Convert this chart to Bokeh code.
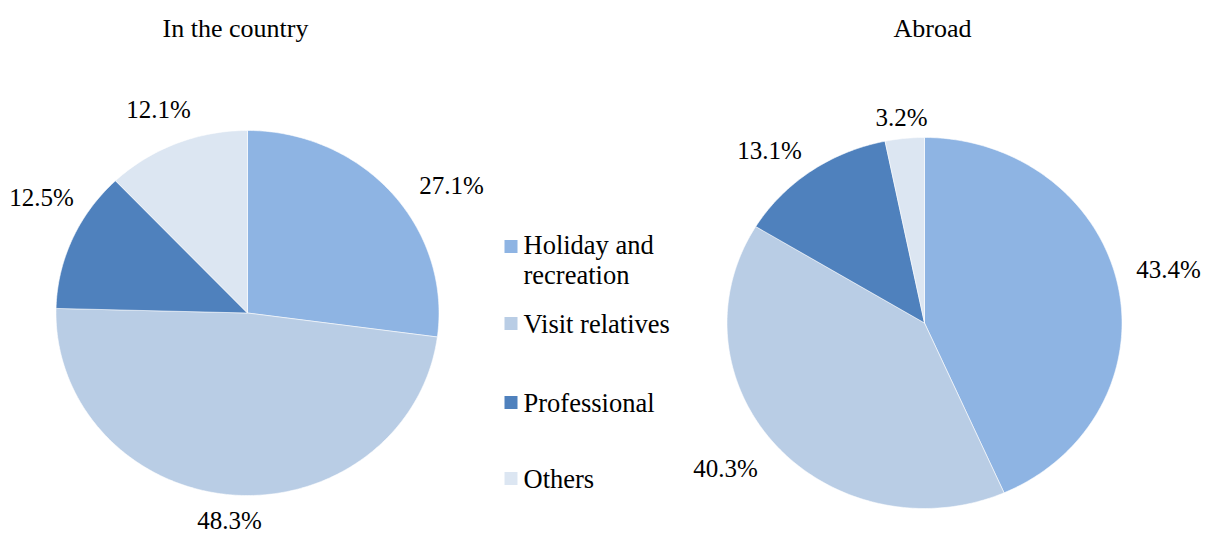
import numpy as np
from bokeh.plotting import figure
from bokeh.models import Range1d, ColumnDataSource
from bokeh.core.properties import value
from bokeh.embed import file_html
from bokeh.resources import INLINE

# ---- data ----
categories = ["Holiday and\nrecreation", "Visit relatives", "Professional", "Others"]
titles = ["In the country", "Abroad"]
country_values = [27.1, 48.3, 12.5, 12.1]
abroad_values = [43.4, 40.3, 13.1, 3.2]
colors = ["#8EB4E3", "#B9CDE5", "#4F81BD", "#DCE6F2"]

# ---- layout (pixel space) ----
W, H = 1205, 536
FONT = "Liberation Serif"
FS_TITLE, FS_LABEL, FS_LEGEND = "26px", "25px", "26.5px"
pies = [
    dict(values=country_values, cx=247, cy=312.5, rx=191.5, ry=182.5, title_xy=(235, 28),
         label_xy=[(451, 185), (229, 520), (41, 197), (158, 109)]),
    dict(values=abroad_values, cx=924, cy=322.5, rx=197.5, ry=185.5, title_xy=(932, 28),
         label_xy=[(1168, 269), (725, 468), (769, 150), (901, 117)]),
]
legend_x, legend_box = 510.5, 13
legend_y = [246, 323, 402, 478]
legend_text_y = [259.5, 323, 402, 478]

p = figure(width=W, height=H, output_backend="svg", toolbar_location=None,
           x_range=Range1d(0, W), y_range=Range1d(H, 0), min_border=0)
p.axis.visible = False
p.grid.visible = False
p.outline_line_color = None
p.background_fill_color = "white"
p.border_fill_color = "white"

for pie, title in zip(pies, titles):
    vals = np.array(pie["values"], dtype=float)
    frac = vals / vals.sum()
    ends = np.cumsum(frac)
    starts = ends - frac
    xs, ys = [], []
    for s, e in zip(starts, ends):
        t = np.linspace(s, e, max(int((e - s) * 400), 8)) * 2 * np.pi
        px = pie["cx"] + pie["rx"] * np.sin(t)
        py = pie["cy"] - pie["ry"] * np.cos(t)
        xs.append([pie["cx"]] + list(px))
        ys.append([pie["cy"]] + list(py))
    src = ColumnDataSource(dict(xs=xs, ys=ys, color=colors))
    p.patches("xs", "ys", source=src, fill_color="color", line_color="white",
              line_width=0.8, line_alpha=0.7)

    lx = [xy[0] for xy in pie["label_xy"]]
    ly = [xy[1] for xy in pie["label_xy"]]
    labels = [f"{v:.1f}%" for v in pie["values"]]
    p.text(x=lx, y=ly, text=labels, text_font=value(FONT), text_font_size=FS_LABEL,
           text_align="center", text_baseline="middle", text_color="black")
    p.text(x=[pie["title_xy"][0]], y=[pie["title_xy"][1]], text=[title], text_font=value(FONT),
           text_font_size=FS_TITLE, text_align="center", text_baseline="middle", text_color="black")

# legend
p.rect(x=[legend_x] * 4, y=legend_y, width=legend_box, height=legend_box, fill_color=colors,
       line_color=None)
p.text(x=[legend_x + 12.5] * 4, y=legend_text_y,
       text=categories, text_font=value(FONT), text_font_size=FS_LEGEND, text_align="left",
       text_baseline="middle", text_color="black", text_line_height=1.03)

open("out.html", "w").write(file_html(p, INLINE))
